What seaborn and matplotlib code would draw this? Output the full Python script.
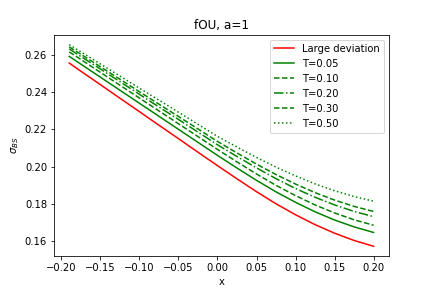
import numpy as np
import seaborn as sns
from matplotlib import pyplot as plt

x = [-0.19, -0.175, -0.15, -0.125, -0.10, -0.075, -0.05, -0.025, 0.00,
     0.025, 0.05, 0.075, 0.10, 0.125, 0.15, 0.175, 0.20]

large_dev = [0.2556, 0.2512, 0.2440, 0.2367, 0.2295, 0.2222, 0.2150, 0.2077, 0.2005,
             0.1934, 0.1865, 0.1800, 0.1741, 0.1688, 0.1642, 0.1603, 0.1572]
t005 = [0.2592, 0.2550, 0.2480, 0.2410, 0.2340, 0.2270, 0.2200, 0.2130, 0.2060,
        0.1992, 0.1926, 0.1864, 0.1808, 0.1757, 0.1713, 0.1676, 0.1646]
t010 = [0.2616, 0.2575, 0.2506, 0.2437, 0.2368, 0.2299, 0.2230, 0.2161, 0.2092,
        0.2025, 0.1960, 0.1899, 0.1844, 0.1794, 0.1751, 0.1714, 0.1685]
t020 = [0.2632, 0.2591, 0.2524, 0.2456, 0.2388, 0.2320, 0.2253, 0.2185, 0.2117,
        0.2054, 0.1993, 0.1935, 0.1882, 0.1835, 0.1794, 0.1759, 0.1731]
t030 = [0.2643, 0.2603, 0.2536, 0.2469, 0.2402, 0.2335, 0.2269, 0.2202, 0.2135,
        0.2073, 0.2013, 0.1957, 0.1906, 0.1860, 0.1820, 0.1786, 0.1759]
t050 = [0.2655, 0.2616, 0.2551, 0.2486, 0.2421, 0.2357, 0.2292, 0.2227, 0.2162,
        0.2105, 0.2049, 0.1997, 0.1950, 0.1907, 0.1870, 0.1839, 0.1814]

fig, ax = plt.subplots(figsize=(6, 4), dpi=72)

sns.lineplot(x=x, y=large_dev, ax=ax, color='r', label='Large deviation')
sns.lineplot(x=x, y=t005, ax=ax, color='g', linestyle='-', label='T=0.05')
sns.lineplot(x=x, y=t010, ax=ax, color='g', linestyle='--', label='T=0.10')
sns.lineplot(x=x, y=t020, ax=ax, color='g', linestyle='-.', label='T=0.20')
sns.lineplot(x=x, y=t030, ax=ax, color='g', linestyle='--', label='T=0.30')
sns.lineplot(x=x, y=t050, ax=ax, color='g', linestyle=':', label='T=0.50')

ax.set_title('fOU, a=1')
ax.set_xlabel('x')
ax.set_ylabel(r'$\sigma_{BS}$')
ax.legend(loc='upper right')

fig.savefig('out.png', dpi=72)
